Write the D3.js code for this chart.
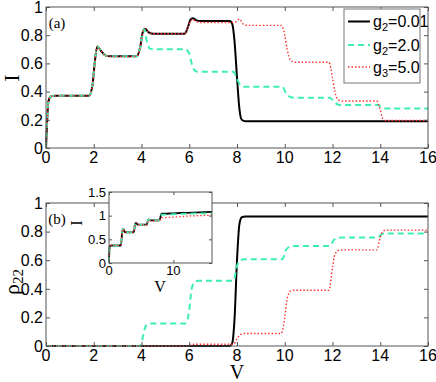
<!DOCTYPE html>
<html>
<head>
<meta charset="utf-8">
<script src="https://cdn.jsdelivr.net/npm/d3@7"></script>
<style>
  body { margin: 0; background: #fff; }
  svg { display: block; }
  .tick-label { font-family: "Liberation Sans Narrow", "Liberation Sans", Arial, sans-serif; font-size: 16px; fill: #000; }
  .ax-label { font-family: "Liberation Serif", "Times New Roman", serif; fill: #000; }
</style>
</head>
<body>
<div id="chart"></div>
<script>
// Panel (a): current I vs bias V
const iBlack = [[0,0],[0.05,0.2],[0.1,0.33],[0.2,0.365],[0.35,0.37],[1.8,0.37],[1.95,0.45],[2.05,0.62],[2.15,0.72],[2.3,0.69],[2.5,0.655],[2.7,0.65],
  [3.8,0.65],[3.95,0.72],[4.05,0.82],[4.15,0.845],[4.3,0.82],[4.5,0.81],[5.8,0.81],[5.95,0.86],[6.05,0.91],[6.15,0.92],[6.3,0.905],[6.5,0.9],
  [7.7,0.9],[7.8,0.88],[7.9,0.75],[8.0,0.5],[8.1,0.28],[8.2,0.2],[8.35,0.19],[16,0.19]];
const iGreen = [[0,0],[0.05,0.2],[0.1,0.33],[0.2,0.365],[0.35,0.37],[1.8,0.37],[1.95,0.45],[2.05,0.62],[2.15,0.72],[2.3,0.69],[2.5,0.655],[2.7,0.65],
  [3.8,0.65],[3.95,0.72],[4.05,0.82],[4.12,0.84],[4.22,0.76],[4.35,0.705],[4.5,0.7],[5.85,0.7],[6.0,0.67],[6.1,0.6],[6.2,0.555],[6.35,0.54],
  [7.85,0.54],[8.0,0.49],[8.15,0.445],[8.3,0.435],[9.9,0.435],[10.05,0.39],[10.25,0.36],[10.4,0.357],[11.9,0.357],[12.05,0.33],[12.25,0.307],
  [12.4,0.305],[13.9,0.305],[14.05,0.29],[14.25,0.28],[16,0.28]];
const iRed = [[0,0],[0.05,0.2],[0.1,0.33],[0.2,0.365],[0.35,0.37],[1.8,0.37],[1.95,0.45],[2.05,0.62],[2.15,0.72],[2.3,0.69],[2.5,0.655],[2.7,0.65],
  [3.8,0.65],[3.95,0.72],[4.05,0.82],[4.15,0.845],[4.3,0.82],[4.5,0.81],[5.8,0.81],[5.95,0.86],[6.05,0.9],[6.15,0.91],[6.3,0.895],[6.5,0.89],
  [7.85,0.89],[8.0,0.9],[8.1,0.915],[8.25,0.88],[8.45,0.87],[9.85,0.87],[10.0,0.8],[10.1,0.7],[10.25,0.62],[10.45,0.608],[11.85,0.608],
  [12.0,0.5],[12.1,0.4],[12.25,0.34],[12.45,0.333],[13.85,0.333],[14.0,0.27],[14.1,0.21],[14.25,0.195],[16,0.195]];

// Panel (b): occupation rho22 vs V
const rhoBlack = [[0,0],[7.7,0],[7.8,0.02],[7.9,0.2],[8.0,0.6],[8.1,0.85],[8.2,0.9],[8.35,0.905],[16,0.905]];
const rhoGreen = [[0,0],[3.9,0],[4.0,0.02],[4.1,0.1],[4.2,0.145],[4.35,0.157],[5.85,0.157],[6.0,0.25],[6.1,0.4],[6.25,0.45],[6.4,0.456],
  [7.85,0.456],[8.0,0.56],[8.15,0.6],[8.3,0.607],[9.9,0.607],[10.05,0.67],[10.2,0.695],[10.35,0.7],[11.9,0.7],[12.05,0.74],[12.2,0.755],
  [12.35,0.758],[13.9,0.758],[14.05,0.78],[14.2,0.787],[16,0.787]];
const rhoRed = [[0,0],[5.9,0],[6.05,0.008],[6.2,0.012],[7.85,0.012],[8.0,0.05],[8.15,0.08],[8.3,0.087],[9.85,0.087],[10.0,0.2],[10.1,0.33],
  [10.25,0.385],[10.45,0.39],[11.85,0.39],[12.0,0.55],[12.1,0.64],[12.25,0.668],[12.45,0.672],[13.85,0.672],[14.0,0.76],[14.1,0.8],
  [14.25,0.81],[16,0.81]];

// Inset of (b): I vs V
const insetBlack = [[0,0],[0.05,0.25],[0.15,0.36],[0.35,0.37],[1.85,0.37],[2.05,0.65],[2.2,0.72],[2.5,0.65],[3.85,0.65],[4.05,0.82],[4.2,0.845],
  [4.5,0.81],[5.85,0.81],[6.05,0.9],[6.2,0.92],[6.5,0.9],[7.85,0.9],[8.05,1.0],[8.2,1.04],[8.5,1.04],[10,1.05],[12,1.06],[14,1.07],[16,1.08]];
const insetGreen = [[0,0],[0.05,0.25],[0.15,0.36],[0.35,0.37],[1.85,0.37],[2.05,0.65],[2.2,0.72],[2.5,0.65],[3.85,0.65],[4.05,0.82],[4.2,0.845],
  [4.5,0.81],[5.85,0.81],[6.05,0.9],[6.2,0.92],[6.5,0.9],[7.85,0.9],[8.05,0.98],[8.2,1.02],[8.5,1.02],[10,1.03],[12,1.04],[14,1.05],[16,1.05]];
const insetRed = [[0,0],[0.05,0.25],[0.15,0.36],[0.35,0.37],[1.85,0.37],[2.05,0.65],[2.2,0.72],[2.5,0.65],[3.85,0.65],[4.05,0.82],[4.2,0.845],
  [4.5,0.81],[5.85,0.81],[6.05,0.88],[6.2,0.9],[6.5,0.89],[7.85,0.89],[8.05,0.94],[8.2,0.96],[8.5,0.96],[10,0.97],[12,0.99],[14,1.0],[16,1.01]];

const seriesNames = ['g2=0.01', 'g2=2.0', 'g3=5.0'];
const xTicks = [0, 2, 4, 6, 8, 10, 12, 14, 16];
const yTicks = [0, 0.2, 0.4, 0.6, 0.8, 1];
const insetXTicks = [0, 10];
const insetYTicks = [0, 0.5, 1, 1.5];

const styles = [
  { color: '#000', width: 2, dash: null },
  { color: '#3ef0b0', width: 2, dash: '6,4' },
  { color: '#ff3030', width: 1.4, dash: '1.5,2' }
];

const W = 436, H = 382;
const svg = d3.select('#chart').append('svg').attr('width', W).attr('height', H);
svg.append('rect').attr('width', W).attr('height', H).attr('fill', '#fff');

const fmt = d => d3.format('~g')(d);

function panel(box, xDom, yDom, xt, yt, series, opts) {
  const x = d3.scaleLinear().domain(xDom).range([box.l, box.r]);
  const y = d3.scaleLinear().domain(yDom).range([box.b, box.t]);
  const g = svg.append('g');
  g.append('rect').attr('x', box.l).attr('y', box.t).attr('width', box.r - box.l).attr('height', box.b - box.t)
    .attr('fill', '#fff');
  const line = d3.line().x(d => x(d[0])).y(d => y(d[1])).curve(d3.curveMonotoneX);
  series.forEach((s, i) => {
    g.append('path').attr('d', line(s)).attr('fill', 'none')
      .attr('stroke', styles[i].color).attr('stroke-width', styles[i].width * (opts.lw || 1))
      .attr('stroke-dasharray', styles[i].dash);
  });
  // inward ticks on all four sides
  const tl = opts.tick || 4;
  const axB = d3.axisBottom(x).tickValues(xt).tickSize(-tl).tickFormat('');
  const axT = d3.axisTop(x).tickValues(xt).tickSize(-tl).tickFormat('');
  const axL = d3.axisLeft(y).tickValues(yt).tickSize(-tl).tickFormat('');
  const axR = d3.axisRight(y).tickValues(yt).tickSize(-tl).tickFormat('');
  [[axB, `translate(0,${box.b})`], [axT, `translate(0,${box.t})`], [axL, `translate(${box.l},0)`], [axR, `translate(${box.r},0)`]]
    .forEach(([a, tr]) => {
      const ag = g.append('g').attr('transform', tr).call(a);
      ag.select('.domain').remove();
      ag.selectAll('line').attr('stroke', '#555');
    });
  g.append('rect').attr('x', box.l).attr('y', box.t).attr('width', box.r - box.l).attr('height', box.b - box.t)
    .attr('fill', 'none').attr('stroke', '#555').attr('stroke-width', 1);
  const fs = opts.fs || 16;
  g.selectAll('.xl').data(xt).enter().append('text').attr('class', 'tick-label')
    .attr('x', d => x(d)).attr('y', box.b + fs * 0.95).attr('text-anchor', 'middle')
    .style('font-size', fs + 'px').text(fmt);
  g.selectAll('.yl').data(yt).enter().append('text').attr('class', 'tick-label')
    .attr('x', box.l - 3).attr('y', d => y(d) + fs * 0.36).attr('text-anchor', 'end')
    .style('font-size', fs + 'px').text(fmt);
  return { x, y, g };
}

// panel (a)
panel({ l: 46, r: 428, t: 7, b: 148 }, [0, 16], [0, 1], xTicks, yTicks, [iBlack, iGreen, iRed], {});
svg.append('text').attr('class', 'ax-label').attr('x', 57).attr('y', 28).attr('text-anchor', 'middle')
  .style('font-size', '15px').text('(a)');
svg.append('text').attr('class', 'ax-label').attr('transform', 'translate(19,78) rotate(-90)')
  .attr('text-anchor', 'middle').style('font-size', '22px').text('I');

// legend
const leg = svg.append('g');
leg.append('rect').attr('x', 344).attr('y', 9).attr('width', 76).attr('height', 74)
  .attr('fill', '#fff').attr('stroke', '#777').attr('stroke-width', 1);
const legRows = [21.5, 45, 67];
seriesNames.forEach((name, i) => {
  const cy = legRows[i];
  leg.append('line').attr('x1', 348).attr('x2', 370).attr('y1', cy).attr('y2', cy)
    .attr('stroke', styles[i].color).attr('stroke-width', styles[i].width)
    .attr('stroke-dasharray', styles[i].dash);
  const t = leg.append('text').attr('class', 'tick-label').attr('x', 373).attr('y', cy + 5.5)
    .style('font-size', '16px');
  t.append('tspan').text(name[0]);
  t.append('tspan').attr('dy', 4).style('font-size', '11px').text(name[1]);
  t.append('tspan').attr('dy', -4).text(name.slice(2));
});

// panel (b)
panel({ l: 46, r: 428, t: 203, b: 346 }, [0, 16], [0, 1], xTicks, yTicks, [rhoBlack, rhoGreen, rhoRed], {});
svg.append('text').attr('class', 'ax-label').attr('x', 57).attr('y', 224).attr('text-anchor', 'middle')
  .style('font-size', '15px').text('(b)');
const rl = svg.append('text').attr('class', 'ax-label').attr('transform', 'translate(19,282) rotate(-90)')
  .attr('text-anchor', 'middle').style('font-size', '22px');
rl.append('tspan').text('ρ');
rl.append('tspan').attr('dy', 4).style('font-size', '15px').text('22');
svg.append('text').attr('class', 'ax-label').attr('x', 237).attr('y', 379).attr('text-anchor', 'middle')
  .style('font-size', '20px').text('V');

// inset
panel({ l: 109, r: 212, t: 192, b: 263 }, [0, 16], [0, 1.5], insetXTicks, insetYTicks,
  [insetBlack, insetGreen, insetRed], { fs: 13, tick: 3, lw: 0.9 });
svg.append('text').attr('class', 'ax-label').attr('transform', 'translate(82,223) rotate(-90)')
  .attr('text-anchor', 'middle').style('font-size', '16px').text('I');
svg.append('text').attr('class', 'ax-label').attr('x', 160).attr('y', 292).attr('text-anchor', 'middle')
  .style('font-size', '16px').text('V');
</script>
</body>
</html>
